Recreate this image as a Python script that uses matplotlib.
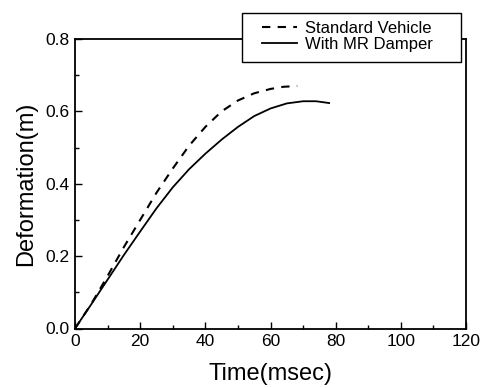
import numpy as np
import matplotlib.pyplot as plt
from matplotlib.patches import Rectangle

plt.rcParams['font.family'] = ['Liberation Sans', 'DejaVu Sans']

# values
t_std = [0, 5, 10, 15, 20, 25, 30, 35, 40, 45, 50, 55, 60, 64, 68.2]
d_std = [0, 0.068, 0.145, 0.225, 0.300, 0.375, 0.442, 0.505, 0.557, 0.600, 0.630, 0.650, 0.662, 0.668, 0.670]

t_mr = [0, 5, 10, 15, 20, 25, 30, 35, 40, 45, 50, 55, 60, 65, 70, 74, 78]
d_mr = [0, 0.067, 0.135, 0.203, 0.268, 0.332, 0.390, 0.440, 0.483, 0.522, 0.557, 0.587,
        0.608, 0.622, 0.628, 0.628, 0.623]

W, H = 490, 388
fig = plt.figure(figsize=(4.9, 3.88), dpi=100)
ax = fig.add_axes([75/W, 1 - 328.5/H, 391/W, 289.5/H])

ax.plot(t_std, d_std, 'k', ls=(0, (4, 3.5)), lw=1.5, label='Standard Vehicle')
ax.plot(t_mr, d_mr, 'k-', lw=1.3, label='With MR Damper')

ax.set_xlim(0, 120)
ax.set_ylim(0, 0.8)
ax.set_xticks(np.arange(0, 121, 20))
ax.set_xticks(np.arange(10, 120, 20), minor=True)
ax.set_yticks(np.arange(0, 0.81, 0.2))
ax.set_yticks(np.arange(0.1, 0.8, 0.2), minor=True)
ax.yaxis.set_major_formatter(plt.FuncFormatter(lambda v, p: '%.1f' % v))
ax.tick_params(which='both', direction='in', labelsize=12.5, width=1)
ax.tick_params(which='major', length=5, pad=4)
ax.tick_params(which='minor', length=3)
for s in ax.spines.values():
    s.set_linewidth(1.3)

ax.set_xlabel('Time(msec)', fontsize=17, labelpad=10)
ax.set_ylabel('Deformation(m)', fontsize=17, labelpad=6)

# legend box sits over the top spine
fig.add_artist(Rectangle((242/W, 1 - 62/H), 219/W, 49/H, transform=fig.transFigure,
                         facecolor='white', edgecolor='black', lw=1, zorder=3))
leg = fig.legend(loc='upper left', bbox_to_anchor=(262/W, 1 - 21/H),
                 fontsize=12, frameon=False, handlelength=2.1,
                 borderpad=0, labelspacing=0.08, handletextpad=0.5,
                 borderaxespad=0)
leg.set_zorder(4)

fig.savefig('out.png', dpi=100)
